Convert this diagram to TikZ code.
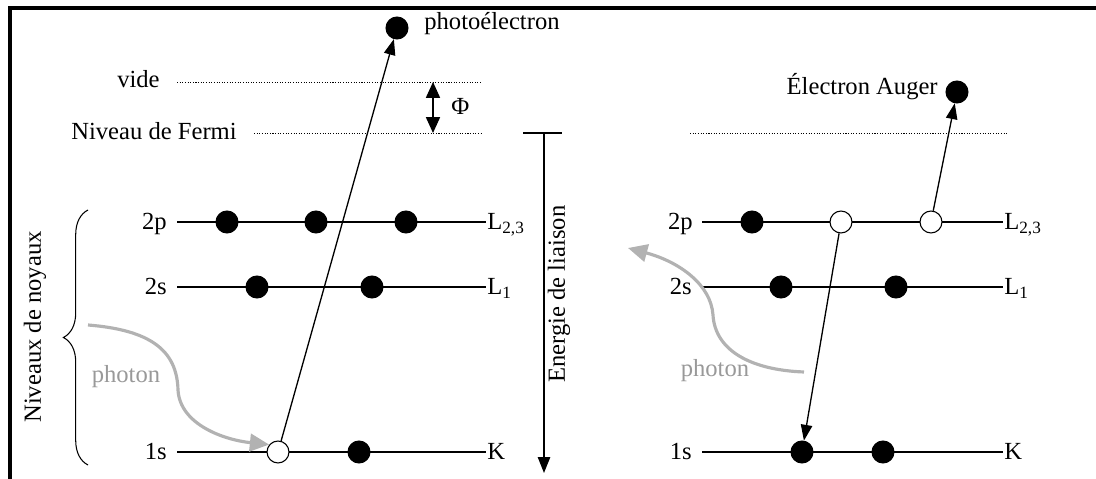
\documentclass[tikz,border=0pt]{standalone}
\usepackage{fontspec}
\setmainfont{Liberation Serif}
\usetikzlibrary{arrows.meta,decorations.pathreplacing,positioning}

\tikzset{
	electron/.style={circle, fill=black, draw=black, line width=0.6pt, minimum size=12.5pt, inner sep=0pt},
	hole/.style={electron, fill=white},
	level/.style={line width=0.9pt},
	vacuum/.style={line width=0.5pt, dash pattern=on 0.6pt off 0.9pt},
	jump/.style={line width=0.75pt, -{Triangle[length=9pt,width=6.5pt]}},
	photonarrow/.style={gray!60, line width=1.8pt, -{Triangle[length=11pt,width=10pt]}},
	lbl/.style={inner sep=0pt, font=\fontsize{14pt}{16pt}\selectfont},
}

\begin{document}
\begin{tikzpicture}[x=0.02cm, y=-0.02cm]
	\useasboundingbox (0,0) rectangle (1096,479);
	% 0. 外框 (只有上边和左边)
	\coordinate (fTR) at (1096,8);
	\coordinate (fTL) at (10,8);
	\coordinate (fBL) at (10,479);
	\draw[line width=2.3pt] (fTR) -- (fTL) -- (fBL);
	
	% 1. 左图: 真空能级与费米能级
	\coordinate (vide0) at (177,82);
	\coordinate (vide1) at (482,82);
	\coordinate (ferA0) at (254,133);
	\coordinate (ferA1) at (482,133);
	\draw[vacuum] (vide0) -- (vide1);
	\draw[vacuum] (ferA0) -- (ferA1);
	\node[lbl, anchor=base east] (videlbl) at (160,88) {vide};
	\node[lbl, anchor=base east] (ferlbl) at (237,140) {Niveau de Fermi};
	
	% 功函数 Phi
	\coordinate (phiTop) at (433,82);
	\coordinate (phiBot) at (433,133);
	\draw[line width=0.75pt, {Triangle[length=9pt,width=8pt]}-{Triangle[length=9pt,width=8pt]}] (phiTop) -- (phiBot);
	\node[lbl, anchor=base west] (philbl) at (451,115) {Φ};
	
	% 2. 左图: 芯能级
	\coordinate (aP0) at (177,222);
	\coordinate (aPe) at (486,222);
	\coordinate (aS0) at (177,287);
	\coordinate (aSe) at (486,287);
	\coordinate (aK0) at (177,452);
	\coordinate (aKe) at (486,452);
	\draw[level] (aP0) -- (aPe);
	\draw[level] (aS0) -- (aSe);
	\draw[level] (aK0) -- (aKe);
	\node[lbl, anchor=base east] (aPlbl) at (167,230) {2p};
	\node[lbl, anchor=base east] (aSlbl) at (167,295) {2s};
	\node[lbl, anchor=base east] (aKlbl) at (167,460) {1s};
	\node[lbl, anchor=base west] (aPr) at (487,230) {L\textsubscript{2,3}};
	\node[lbl, anchor=base west] (aSr) at (487,295) {L\textsubscript{1}};
	\node[lbl, anchor=base west] (aKr) at (487,460) {K};
	
	% 电子与空穴
	\node[electron] (aP1) at (227,222) {};
	\node[electron] (aP2) at (316,222) {};
	\node[electron] (aP3) at (406,222) {};
	\node[electron] (aS1) at (257,287) {};
	\node[electron] (aS2) at (372,287) {};
	\node[hole] (aK1) at (278,452) {};
	\node[electron] (aK2) at (359,452) {};
	
	% 光电子
	\node[electron] (pe) at (397,28) {};
	\node[lbl, anchor=base west] (pelbl) at (424,30) {photoélectron};
	\draw[jump] (aK1) -- (pe);
	
	% 入射光子
	\coordinate (phA) at (88,325);
	\draw[photonarrow] (phA) .. controls (150,330) and (177,350) .. (178,390) .. controls (180,425) and (225,440) .. (aK1.140);
	\node[lbl, text=gray!80] (phAlbl) at (126,377) {photon};
	
	% 大括号
	\coordinate (brB) at (88,465);
	\coordinate (brT) at (88,210);
	\draw[line width=0.6pt, decorate, decoration={brace, amplitude=14pt}] (brB) -- (brT);
	\node[lbl, rotate=90] (noylbl) at (35,327) {Niveaux de noyaux};
	
	% 3. 结合能坐标轴
	\coordinate (eL) at (523,133);
	\coordinate (eR) at (562,133);
	\coordinate (eTop) at (544,133);
	\coordinate (eBot) at (544,473);
	\draw[line width=0.75pt] (eL) -- (eR);
	\draw[line width=0.75pt, -{Triangle[length=9pt,width=7pt]}] (eTop) -- (eBot);
	\node[lbl, rotate=90] (elbl) at (559,294) {Energie de liaison};
	
	% 4. 右图: 俄歇过程
	\coordinate (ferB0) at (690,133);
	\coordinate (ferB1) at (1007,133);
	\draw[vacuum] (ferB0) -- (ferB1);
	
	\coordinate (bP0) at (702,222);
	\coordinate (bPe) at (1003,222);
	\coordinate (bS0) at (702,287);
	\coordinate (bSe) at (1003,287);
	\coordinate (bK0) at (702,452);
	\coordinate (bKe) at (1003,452);
	\draw[level] (bP0) -- (bPe);
	\draw[level] (bS0) -- (bSe);
	\draw[level] (bK0) -- (bKe);
	\node[lbl, anchor=base east] (bPlbl) at (693,230) {2p};
	\node[lbl, anchor=base east] (bSlbl) at (692,295) {2s};
	\node[lbl, anchor=base east] (bKlbl) at (692,460) {1s};
	\node[lbl, anchor=base west] (bPr) at (1004,230) {L\textsubscript{2,3}};
	\node[lbl, anchor=base west] (bSr) at (1004,295) {L\textsubscript{1}};
	\node[lbl, anchor=base west] (bKr) at (1004,460) {K};
	
	\node[electron] (bP1) at (752,222) {};
	\node[hole] (bP2) at (841,222) {};
	\node[hole] (bP3) at (931,222) {};
	\node[electron] (bS1) at (781,287) {};
	\node[electron] (bS2) at (896,287) {};
	\node[electron] (bK1) at (802,452) {};
	\node[electron] (bK2) at (883,452) {};
	
	% 俄歇电子
	\node[electron] (auger) at (957,92) {};
	\node[lbl, anchor=base east] (augerlbl) at (938,95) {Électron Auger};
	\draw[jump] (bP3) -- (auger);
	\draw[jump] (bP2) -- (bK1);
	
	% 出射光子
	\coordinate (phB) at (804,372);
	\coordinate (phBend) at (628,248);
	\draw[photonarrow] (phB) .. controls (750,370) and (715,350) .. (713,315) .. controls (711,285) and (680,262) .. (phBend);
	\node[lbl, text=gray!80] (phBlbl) at (715,371) {photon};
\end{tikzpicture}
\end{document}
